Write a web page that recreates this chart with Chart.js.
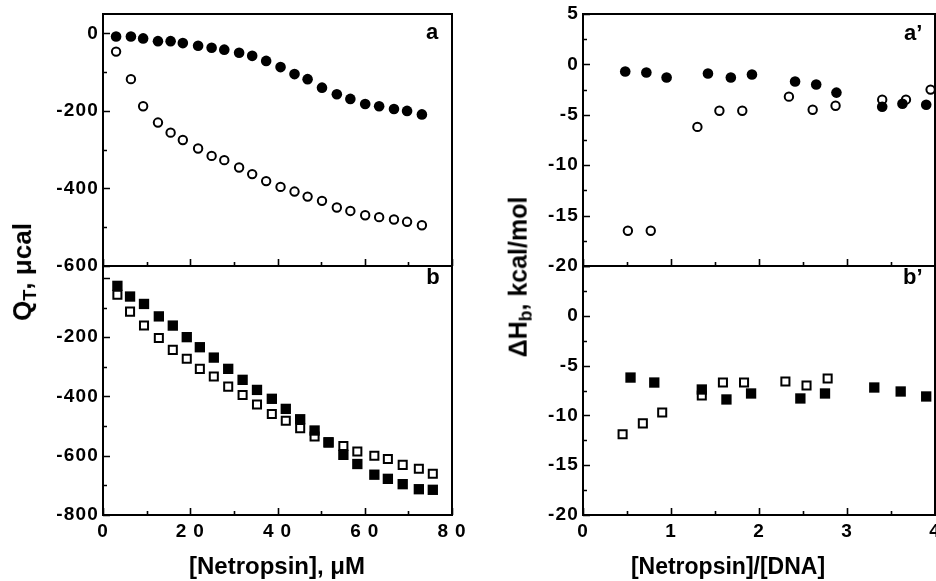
<!DOCTYPE html>
<html>
<head>
<meta charset="utf-8">
<script src="https://cdn.jsdelivr.net/npm/chart.js@4.4.1/dist/chart.umd.min.js"></script>
<style>
html,body{margin:0;padding:0;background:#fff;overflow:hidden;}
#wrap{position:relative;width:936px;height:581px;overflow:hidden;background:#fff;}
#wrap canvas{position:absolute;left:0;top:0;}
.t{position:absolute;font-family:'Liberation Sans',Arial,Helvetica,sans-serif;font-weight:bold;color:#000;white-space:nowrap;line-height:1.15;}
.yt{transform:translate(-50%,-50%) rotate(-90deg);font-size:25px;}
.xt{transform:translate(-50%,-50%);font-size:24px;}
.pl{transform:translate(-50%,-50%);font-size:22px;}
.pr{transform:translate(0,-50%);font-size:22px;}
sub{font-size:70%;vertical-align:baseline;position:relative;top:0.3em;}
</style>
</head>
<body>
<div id="wrap">
<canvas id="cA" width="936" height="581"></canvas>
<canvas id="cB" width="936" height="581"></canvas>
<canvas id="cRA" width="936" height="581"></canvas>
<canvas id="cRB" width="936" height="581"></canvas>
<div class="t yt" style="left:23px;top:272px;font-size:26px;">Q<sub>T</sub>, μcal</div>
<div class="t yt" style="left:518px;top:277px;">ΔH<sub>b</sub>, kcal/mol</div>
<div class="t xt" style="left:277px;top:566px;">[Netropsin], μM</div>
<div class="t xt" style="left:728px;top:566px;font-size:23px;">[Netropsin]/[DNA]</div>
<div class="t pl" style="left:432px;top:32px;">a</div>
<div class="t pl" style="left:433px;top:277px;">b</div>
<div class="t pr" style="left:904px;top:33px;">a’</div>
<div class="t pr" style="left:903px;top:277px;">b’</div>
</div>
<script>
// ---- Panel a: Q_T vs [Netropsin] (µM) ----
const concA = [3.0, 6.4, 9.2, 12.6, 15.5, 18.3, 21.8, 24.9, 27.8, 31.2, 34.2, 37.4, 40.7, 43.9, 46.9, 50.2, 53.6, 56.7, 60.1, 63.3, 66.7, 69.7, 73.1];
const qFilledA = [-8, -8, -13, -20, -20, -25, -32, -37, -42, -50, -58, -71, -87, -105, -118, -140, -157, -169, -182, -188, -195, -200, -209];
const qOpenA = [-47, -118, -188, -230, -256, -275, -297, -316, -327, -346, -363, -381, -396, -408, -421, -432, -449, -458, -469, -474, -480, -486, -495];

// ---- Panel b ----
const concB = [3.3, 6.2, 9.4, 12.8, 16.0, 19.2, 22.2, 25.4, 28.7, 32.0, 35.3, 38.7, 41.9, 45.2, 48.5, 51.7, 55.1, 58.3, 62.2, 65.3, 68.7, 72.4, 75.6];
const qFilledB = [-27, -63, -88, -130, -161, -200, -234, -269, -307, -344, -378, -408, -442, -477, -515, -555, -597, -628, -664, -678, -696, -713, -715];
const qOpenB = [-57, -114, -161, -203, -243, -273, -307, -333, -367, -395, -427, -459, -482, -507, -535, -555, -567, -586, -600, -611, -631, -644, -661];

// ---- Panel a' : ΔHb vs [Netropsin]/[DNA] ----
const ratioFilledA = [0.48, 0.72, 0.95, 1.42, 1.68, 1.92, 2.41, 2.65, 2.88, 3.40, 3.63, 3.90];
const dhFilledA = [-0.7, -0.8, -1.3, -0.9, -1.3, -1.0, -1.7, -2.0, -2.8, -4.2, -3.9, -4.0];
const ratioOpenA = [0.51, 0.77, 1.30, 1.55, 1.81, 2.34, 2.61, 2.87, 3.40, 3.67, 3.95];
const dhOpenA = [-16.5, -16.5, -6.2, -4.6, -4.6, -3.2, -4.5, -4.1, -3.5, -3.5, -2.5];

// ---- Panel b' ----
const ratioFilledB = [0.54, 0.81, 1.35, 1.63, 1.91, 2.47, 2.75, 3.31, 3.61, 3.90];
const dhFilledB = [-6.2, -6.7, -7.4, -8.4, -7.8, -8.3, -7.8, -7.2, -7.6, -8.1];
const ratioOpenB = [0.45, 0.68, 0.90, 1.35, 1.59, 1.83, 2.30, 2.54, 2.78];
const dhOpenB = [-11.9, -10.8, -9.7, -8.0, -6.7, -6.7, -6.6, -7.0, -6.3];

// ---- tick labels ----
const yLabelsA = [0, -200, -400, -600];
const yLabelsB = [-200, -400, -600, -800];
const xLabelsLeft = [0, 20, 40, 60, 80];
const yLabelsRA = [5, 0, -5, -10, -15, -20];
const yLabelsRB = [0, -5, -10, -15, -20];
const xLabelsRight = [0, 1, 2, 3, 4];

const FONT = "'Liberation Sans', Arial, Helvetica, sans-serif";

const framePlugin = {
  id: 'frame',
  beforeDatasetsDraw(chart, args, o) {
    const ctx = chart.ctx, a = chart.chartArea, x = chart.scales.x, y = chart.scales.y;
    ctx.save();
    ctx.strokeStyle = '#000';
    ctx.lineWidth = 2;
    ctx.strokeRect(a.left, a.top, a.right - a.left, a.bottom - a.top);
    ctx.lineWidth = 1.6;
    ctx.beginPath();
    const isMajor = (v, s) => Math.abs(v / s - Math.round(v / s)) < 1e-6;
    for (let v = Math.ceil(y.min / o.yMinor) * o.yMinor; v <= y.max + 1e-9; v += o.yMinor) {
      const p = Math.round(y.getPixelForValue(v)) + 0.5;
      const len = isMajor(v, o.yMajor) ? 7 : 4;
      ctx.moveTo(a.left, p); ctx.lineTo(a.left + len, p);
    }
    for (let v = Math.ceil(x.min / o.xMinor) * o.xMinor; v <= x.max + 1e-9; v += o.xMinor) {
      const p = Math.round(x.getPixelForValue(v)) + 0.5;
      const len = isMajor(v, o.xMajor) ? 7 : 4;
      ctx.moveTo(p, a.bottom); ctx.lineTo(p, a.bottom - len);
    }
    ctx.stroke();
    ctx.restore();
  }
};

const spacingPlugin = {
  id: 'spacing',
  beforeDraw(chart, a, o) { chart.ctx.letterSpacing = o.y || '0px'; },
  afterDatasetsDraw(chart, a, o) { chart.ctx.letterSpacing = o.x || '0px'; },
  afterDraw(chart) { chart.ctx.letterSpacing = '0px'; }
};

function pts(xs, ys) { return xs.map((v, i) => ({ x: v, y: ys[i] })); }

function filled(style, xs, ys, r) {
  return { data: pts(xs, ys), pointStyle: style, pointRadius: r, pointBackgroundColor: '#000', pointBorderColor: '#000', pointBorderWidth: 0, showLine: false };
}
function open(style, xs, ys, r) {
  return { data: pts(xs, ys), pointStyle: style, pointRadius: r, pointBackgroundColor: '#fff', pointBorderColor: '#000', pointBorderWidth: 2, showLine: false };
}

function panel(id, c) {
  return new Chart(document.getElementById(id), {
    type: 'scatter',
    data: { datasets: c.datasets },
    options: {
      responsive: false, animation: false, events: [],
      layout: { padding: c.padding, autoPadding: false },
      plugins: {
        legend: { display: false }, tooltip: { enabled: false },
        frame: c.frame, spacing: c.spacing
      },
      scales: {
        x: {
          type: 'linear', min: c.xMin, max: c.xMax, display: c.showX,
          afterBuildTicks: s => { s.ticks = c.xLabels.map(v => ({ value: v })); },
          afterFit: s => { s.height = c.xHeight; s.paddingLeft = 0; s.paddingRight = 0; },
          grid: { display: false, drawTicks: false }, border: { display: false },
          ticks: { z: 1, autoSkip: false, maxRotation: 0, padding: 5, color: '#000', labelOffset: c.xLabelOffset,
                   font: { family: FONT, size: 19, weight: 'bold' }, callback: v => String(v) }
        },
        y: {
          type: 'linear', min: c.yMin, max: c.yMax,
          afterBuildTicks: s => { s.ticks = c.yLabels.map(v => ({ value: v })); },
          afterFit: s => { s.width = 103; s.paddingTop = 0; s.paddingBottom = 0; },
          grid: { display: false, drawTicks: false }, border: { display: false },
          ticks: { autoSkip: false, padding: 4, color: '#000',
                   font: { family: FONT, size: 19, weight: 'bold' }, callback: v => String(v) }
        }
      }
    },
    plugins: [framePlugin, spacingPlugin]
  });
}

panel('cA', {
  datasets: [filled('circle', concA, qFilledA, 5.3), open('circle', concA, qOpenA, 4.2)],
  padding: { left: 0, top: 14, right: 484, bottom: 315 },
  xMin: 0, xMax: 80, yMin: -600, yMax: 50, showX: false, xHeight: 0, xLabelOffset: 0,
  xLabels: xLabelsLeft, yLabels: yLabelsA,
  frame: { yMajor: 200, yMinor: 100, xMajor: 20, xMinor: 10 },
  spacing: { y: '1.2px', x: '7px' }
});
panel('cB', {
  datasets: [filled('rect', concB, qFilledB, 7.3), open('rect', concB, qOpenB, 5.7)],
  padding: { left: 0, top: 266, right: 484, bottom: 26 },
  xMin: 0, xMax: 80, yMin: -800, yMax: 40, showX: true, xHeight: 40, xLabelOffset: 3,
  xLabels: xLabelsLeft, yLabels: yLabelsB,
  frame: { yMajor: 200, yMinor: 100, xMajor: 20, xMinor: 10 },
  spacing: { y: '1.2px', x: '7px' }
});
panel('cRA', {
  datasets: [filled('circle', ratioFilledA, dhFilledA, 5.3), open('circle', ratioOpenA, dhOpenA, 4.2)],
  padding: { left: 480, top: 14, right: 1, bottom: 315 },
  xMin: 0, xMax: 4, yMin: -20, yMax: 5, showX: false, xHeight: 0, xLabelOffset: 0,
  xLabels: xLabelsRight, yLabels: yLabelsRA,
  frame: { yMajor: 5, yMinor: 2.5, xMajor: 1, xMinor: 0.5 },
  spacing: { y: '1.2px', x: '1px' }
});
panel('cRB', {
  datasets: [filled('rect', ratioFilledB, dhFilledB, 7.3), open('rect', ratioOpenB, dhOpenB, 5.7)],
  padding: { left: 480, top: 266, right: 1, bottom: 26 },
  xMin: 0, xMax: 4, yMin: -20, yMax: 5, showX: true, xHeight: 40, xLabelOffset: 0,
  xLabels: xLabelsRight, yLabels: yLabelsRB,
  frame: { yMajor: 5, yMinor: 2.5, xMajor: 1, xMinor: 0.5 },
  spacing: { y: '1.2px', x: '1px' }
});
</script>
</body>
</html>
